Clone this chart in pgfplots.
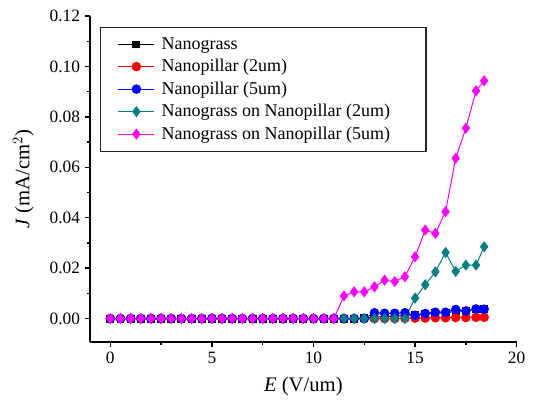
\documentclass[border=0pt]{standalone}
\usepackage{fontspec}
\setmainfont{Liberation Serif}
\usepackage{pgfplots}
\usepackage{pgfplotstable}
\pgfplotsset{compat=1.18}
\definecolor{ngteal}{RGB}{0,128,128}
\definecolor{ngmag}{RGB}{255,0,255}

\pgfplotstableread{
x    ng      np2     np5     ngnp2   ngnp5
0    0       0       0       0       0
0.5  0       0       0       0       0
1    0       0       0       0       0
1.5  0       0       0       0       0
2    0       0       0       0       0
2.5  0       0       0       0       0
3    0       0       0       0       0
3.5  0       0       0       0       0
4    0       0       0       0       0
4.5  0       0       0       0       0
5    0       0       0       0       0
5.5  0       0       0       0       0
6    0       0       0       0       0
6.5  0       0       0       0       0
7    0       0       0       0       0
7.5  0       0       0       0       0
8    0       0       0       0       0
8.5  0       0       0       0       0
9    0       0       0       0       0
9.5  0       0       0       0       0
10   0       0       0       0       0
10.5 0       0       0       0       0
11   0       0       0       0       0
11.5 0       0       0       0       0.0090
12   0       0       0       0       0.0106
12.5 0.0003  0       0       0       0.0106
13   0.0005  0       0.0023  0       0.0126
13.5 0.0008  0       0.0021  0       0.0152
14   0.0010  0       0.0021  0       0.0147
14.5 0.0012  0.0001  0.0023  0       0.0166
15   0.0015  0.0002  0.0013  0.0081  0.0245
15.5 0.0018  0.0002  0.0020  0.0134  0.0351
16   0.0021  0.0003  0.0025  0.0185  0.0338
16.5 0.0024  0.0003  0.0025  0.0262  0.0424
17   0.0028  0.0004  0.0036  0.0187  0.0636
17.5 0.0032  0.0004  0.0030  0.0212  0.0755
18   0.0036  0.0005  0.0038  0.0212  0.0903
18.4 0.0038  0.0005  0.0037  0.0285  0.0943
}\jdata

\begin{document}
\begin{tikzpicture}
\path[use as bounding box] (-67.5pt,-45.75pt) rectangle (332.25pt,256.5pt);
\begin{axis}[
    scale only axis,
    width=320pt, height=244.5pt,
    xmin=-1, xmax=20, ymin=-0.0093, ymax=0.12,
    axis lines*=left,
    axis line style={line width=1.1pt},
    tick align=outside,
    major tick length=4pt, minor tick length=2.2pt,
    every tick/.style={line width=1pt, black},
    xtick={0,5,10,15,20}, minor x tick num=1,
    ytick={0,0.02,0.04,0.06,0.08,0.1,0.12}, minor y tick num=1,
    yticklabel style={/pgf/number format/.cd, fixed, fixed zerofill, precision=2},
    /pgf/number format/assume math mode=true,
    tick label style={font=\fontsize{13}{15}\selectfont},
    label style={font=\fontsize{15.5}{18}\selectfont},
    xlabel={\textit{E} (V/um)},
    ylabel={\textit{J} (mA/cm$^{2}$)},
    xlabel style={yshift=-3pt},
    ylabel style={yshift=5pt},
    legend style={at={(rel axis cs:0.0235,0.966)}, anchor=north west,
        draw=black!85, line width=0.8pt, font=\fontsize{13.5}{15}\selectfont,
        fill=white,
        inner xsep=13pt, inner ysep=5.5pt, row sep=2pt, column sep=3pt,
        cells={anchor=west}},
    legend cell align=left,
    legend image code/.code={\draw[mark repeat=2,mark phase=2]
        plot coordinates {(0pt,0pt) (13.5pt,0pt) (27pt,0pt)};},
    every axis plot/.append style={line width=0.75pt},
]
\addplot[black, mark=square*, mark size=2.6pt] table[x=x, y=ng] {\jdata};
\addlegendentry{Nanograss}
\addplot[red, mark=*, mark size=3.2pt] table[x=x, y=np2] {\jdata};
\addlegendentry{Nanopillar (2um)}
\addplot[blue, mark=*, mark size=3.2pt] table[x=x, y=np5] {\jdata};
\addlegendentry{Nanopillar (5um)}
\addplot[ngteal, mark=diamond*, mark size=3.6pt] table[x=x, y=ngnp2] {\jdata};
\addlegendentry{Nanograss on Nanopillar (2um)}
\addplot[ngmag, mark=diamond*, mark size=3.6pt] table[x=x, y=ngnp5] {\jdata};
\addlegendentry{Nanograss on Nanopillar (5um)\hspace*{12pt}}
\end{axis}
\end{tikzpicture}
\end{document}
